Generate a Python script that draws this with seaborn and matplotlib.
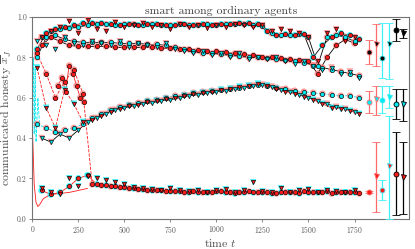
import numpy as np
import pandas as pd
import matplotlib
matplotlib.use('Agg')
import matplotlib.pyplot as plt
import seaborn as sns

# sampling times of the two interleaved grids
t_a = list(range(25, 1800, 50))
t_b = list(range(50, 1800, 50))

# top band (~0.95)
top_o_red = [0.84, 0.92, 0.94, 0.95, 0.96, 0.97, 0.97, 0.97, 0.965, 0.96, 0.965, 0.96, 0.965, 0.965, 0.96, 0.96, 0.965, 0.96,
             0.965, 0.96, 0.965, 0.965, 0.97, 0.97, 0.965, 0.93, 0.91, 0.915, 0.91, 0.915, 0.80, 0.86, 0.90, 0.92, 0.91, 0.89]
top_v_red = [0.90, 0.93, 0.95, 0.98, 0.92, 0.985, 0.94, 0.93, 0.975, 0.95, 0.96, 0.97, 0.95, 0.96, 0.94, 0.965, 0.95, 0.96,
             0.945, 0.96, 0.95, 0.965, 0.96, 0.95, 0.96, 0.93, 0.94, 0.93, 0.92, 0.90, 0.78, 0.92, 0.94, 0.88, 0.90]
top_o_cyan = [0.90, 0.93, 0.94, 0.945, 0.95, 0.96, 0.965, 0.965, 0.96, 0.965, 0.965, 0.96, 0.965, 0.96, 0.96, 0.965, 0.96, 0.96,
              0.965, 0.96, 0.965, 0.965, 0.965, 0.96, 0.955, 0.92, 0.91, 0.91, 0.915, 0.90, 0.76, 0.90, 0.91, 0.90, 0.88]

# second band (0.87 -> 0.71)
sec_o_cyan = [0.80, 0.90, 0.91, 0.89, 0.88, 0.875, 0.875, 0.875, 0.875, 0.87, 0.87, 0.87, 0.865, 0.865, 0.86, 0.85, 0.84, 0.83,
              0.82, 0.82, 0.815, 0.81, 0.805, 0.80, 0.80, 0.795, 0.79, 0.785, 0.78, 0.775, 0.76, 0.75, 0.74, 0.73, 0.72, 0.71]
sec_o_red = [0.86, 0.90, 0.88, 0.86, 0.855, 0.855, 0.855, 0.855, 0.85, 0.85, 0.85, 0.85, 0.85, 0.845, 0.845, 0.84, 0.84, 0.835,
             0.83, 0.83, 0.825, 0.82, 0.815, 0.81, 0.80, 0.80, 0.795, 0.79, 0.785, 0.78, 0.72, 0.80, 0.86, 0.89, 0.87]
sec_v_cyan = [0.88, 0.86, 0.84, 0.90, 0.87, 0.86, 0.88, 0.87, 0.86, 0.88, 0.85, 0.87, 0.86, 0.85, 0.87, 0.84, 0.83, 0.82,
              0.83, 0.81, 0.82, 0.80, 0.82, 0.79, 0.80, 0.79, 0.80, 0.78, 0.77, 0.78, 0.76, 0.74, 0.75, 0.72, 0.73, 0.70]

# middle band (0.45 -> 0.66 -> 0.55/0.60)
mid_o_cyan = [0.47, 0.45, 0.43, 0.44, 0.45, 0.47, 0.50, 0.52, 0.54, 0.555, 0.565, 0.575, 0.585, 0.59, 0.60, 0.61, 0.615, 0.625,
              0.63, 0.635, 0.64, 0.645, 0.65, 0.66, 0.665, 0.66, 0.65, 0.645, 0.635, 0.63, 0.625, 0.62, 0.615, 0.61, 0.61, 0.60]
mid_v_cyan = [0.40, 0.38, 0.42, 0.40, 0.44, 0.48, 0.50, 0.52, 0.54, 0.55, 0.56, 0.57, 0.575, 0.585, 0.59, 0.60, 0.61, 0.615,
              0.625, 0.63, 0.635, 0.645, 0.65, 0.66, 0.665, 0.655, 0.64, 0.63, 0.615, 0.60, 0.585, 0.57, 0.555, 0.545, 0.53]
mid_v_red = [0.75, 0.55, 0.45, 0.64, 0.57, 0.48, 0.49, 0.51, 0.53, 0.545, 0.56, 0.565, 0.58, 0.585, 0.595, 0.60, 0.61, 0.62,
             0.625, 0.63, 0.64, 0.645, 0.655, 0.66, 0.67, 0.66, 0.645, 0.63, 0.62, 0.605, 0.59, 0.57, 0.55, 0.545, 0.535, 0.52]
early_cyan_t = [0, 5, 10, 15, 20, 30, 40]
early_cyan = [0.50, 0.80, 0.42, 0.75, 0.38, 0.60, 0.45]

# red agents jumping from the middle to the bottom band
jump_o_red = [0.82, 0.72, 0.60, 0.68, 0.74, 0.62, 0.17, 0.165, 0.16, 0.155, 0.15, 0.145, 0.14, 0.14, 0.135, 0.135, 0.13, 0.135,
              0.13, 0.13, 0.135, 0.13, 0.13, 0.135, 0.13, 0.13, 0.125, 0.13, 0.13, 0.135, 0.13, 0.13, 0.125, 0.13, 0.13, 0.125]
early_t = [140, 160, 180, 200, 220, 240, 260, 280]
early_o_red = [0.66, 0.70, 0.63, 0.76, 0.72, 0.66, 0.60, 0.58]

# bottom band (~0.13)
bot_o_red = [0.14, 0.12, 0.13, 0.16, 0.20, 0.215, 0.17, 0.165, 0.16, 0.155, 0.15, 0.145, 0.14, 0.14, 0.135, 0.135, 0.13, 0.13,
             0.13, 0.135, 0.13, 0.125, 0.13, 0.13, 0.13, 0.125, 0.13, 0.13, 0.125, 0.13, 0.13, 0.135, 0.13, 0.13, 0.13]
bot_v_red = [0.15, 0.13, 0.12, 0.20, 0.16, 0.21, 0.20, 0.19, 0.18, 0.17, 0.155, 0.15, 0.145, 0.14, 0.15, 0.14, 0.135, 0.14,
             0.13, 0.14, 0.145, 0.13, 0.14, 0.18, 0.135, 0.13, 0.15, 0.13, 0.14, 0.145, 0.13, 0.14, 0.135, 0.13, 0.14]
line_t = [0, 10, 20, 30, 40, 60, 100, 150, 200, 250, 300]
line_red = [0.45, 0.17, 0.08, 0.06, 0.07, 0.10, 0.12, 0.125, 0.13, 0.14, 0.15]

# final averages with spread (right side)
avg_x = [1830, 1866, 1902, 1939, 1975, 2011]
avg_high = [0.829, 0.865, 0.796, 0.865, 0.937, 0.923]
avg_high_lo = [0.767, 0.758, 0.697, 0.692, 0.882, 0.895]
avg_high_hi = [0.885, 0.965, 0.970, 0.970, 0.990, 0.941]
avg_mid = [0.578, 0.593, 0.589, 0.606, 0.569, 0.568]
avg_mid_lo = [0.523, 0.513, 0.526, 0.548, 0.493, 0.485]
avg_mid_hi = [0.635, 0.659, 0.659, 0.659, 0.642, 0.644]
avg_low = [0.131, 0.213, 0.142, 0.263, 0.222, 0.208]
avg_low_lo = [0.127, 0.035, 0.093, 0.000, 0.018, 0.023]
avg_low_hi = [0.135, 0.379, 0.192, 0.510, 0.429, 0.379]

RED = '#ff1a1a'
PINK = '#ff7a7a'
CYAN = '#00e8f0'
BAR_RED = '#ff6a6a'
BAR_CYAN = '#40f0f8'

sns.set_style('ticks')
plt.rcParams['font.family'] = 'serif'
plt.rcParams['font.serif'] = ['cmr10']
plt.rcParams['mathtext.fontset'] = 'cm'
plt.rcParams['axes.formatter.use_mathtext'] = True

fig, ax = plt.subplots(figsize=(4.15, 2.49), dpi=100)
fig.subplots_adjust(left=0.078, right=0.986, bottom=0.122, top=0.931)


def draw(t, v, marker, face, edge, halo, lc, ls='-'):
    df = pd.DataFrame({'t': t, 'v': v})
    if lc is not None:
        sns.lineplot(data=df, x='t', y='v', ax=ax, color=lc, lw=0.6, ls=ls,
                     estimator=None, sort=False, zorder=2)
    if marker is not None:
        sns.scatterplot(data=df, x='t', y='v', ax=ax, marker=marker, s=22, color=halo,
                        edgecolor='none', alpha=0.75, zorder=3)
        sns.scatterplot(data=df, x='t', y='v', ax=ax, marker=marker, s=9, color=face,
                        edgecolor=edge, linewidth=0.45, zorder=4)


draw(line_t, line_red, None, None, None, None, RED)
draw(early_cyan_t, early_cyan, None, None, None, None, CYAN, '--')
draw(t_a, mid_o_cyan, 'o', CYAN, 'k', PINK, CYAN, '--')
draw(t_b, mid_v_cyan, 'v', CYAN, 'k', PINK, 'k')
draw(t_a, mid_v_red, 'v', RED, 'k', CYAN, RED, '--')
draw(t_b, bot_o_red, 'o', RED, 'k', CYAN, RED)
draw(t_b, bot_v_red, 'v', RED, 'k', CYAN, None)
draw(t_a, jump_o_red, 'o', RED, 'k', PINK, RED, '--')
draw(early_t, early_o_red, 'o', RED, 'k', PINK, RED)
draw(t_b, sec_o_red, 'o', RED, 'k', PINK, 'k')
draw(t_a, sec_o_cyan, 'o', CYAN, 'k', PINK, 'k')
draw(t_a, sec_v_cyan, 'v', CYAN, 'k', PINK, None)
draw(t_b, top_o_cyan, 'o', CYAN, 'k', PINK, 'k')
draw(t_a, top_o_red, 'o', RED, 'k', CYAN, 'k')
draw(t_b, top_v_red, 'v', RED, 'k', PINK, None)

# summary error bars
bar_colors = [BAR_RED, BAR_RED, BAR_CYAN, BAR_CYAN, 'k', 'k']
bar_markers = ['o', 'v', 'o', 'v', 'o', 'v']
rows = [(avg_high, avg_high_lo, avg_high_hi, 'k'),
        (avg_mid, avg_mid_lo, avg_mid_hi, CYAN),
        (avg_low, avg_low_lo, avg_low_hi, RED)]
for i, x in enumerate(avg_x):
    for vals, lo, hi, face in rows:
        ax.errorbar(x, vals[i], yerr=[[vals[i] - lo[i]], [hi[i] - vals[i]]],
                    fmt=bar_markers[i], color=bar_colors[i], mfc=face, mec=bar_colors[i],
                    ms=3.6, mew=0.6, capsize=2.6, lw=0.9, capthick=0.9, zorder=5)

ax.set_xlim(0, 2047)
ax.set_ylim(0, 1.0)
ax.set_xticks([0, 250, 500, 750, 1000, 1250, 1500, 1750])
ax.set_yticks([0.0, 0.2, 0.4, 0.6, 0.8, 1.0])
ax.set_yticklabels(['0.0', '0.2', '0.4', '0.6', '0.8', '1.0'])
ax.tick_params(labelsize=5.5, length=2, width=0.5, colors='0.35', pad=2)
for sp in ax.spines.values():
    sp.set_color('0.45')
    sp.set_linewidth(0.8)
ax.set_title('smart among ordinary agents', fontsize=8.5, color='0.25', pad=2)
ax.set_xlabel('time $t$', fontsize=8.5, color='0.3', labelpad=1)
ax.set_ylabel(r'communicated honesty $\overline{x}_J$', fontsize=8.5, color='0.3', labelpad=2)

fig.savefig('out.png', dpi=100)
